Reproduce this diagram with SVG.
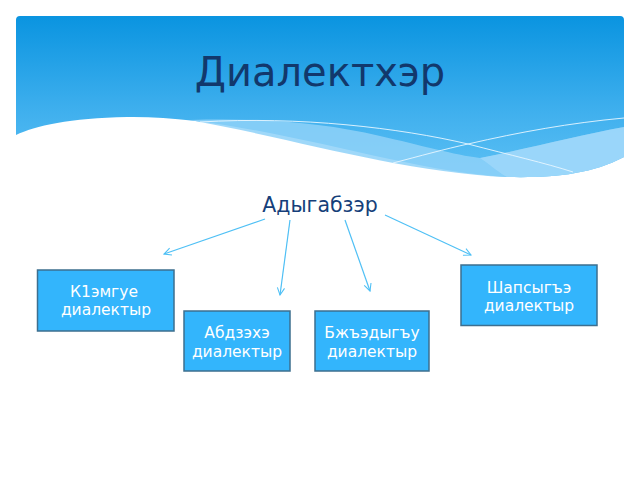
<svg xmlns="http://www.w3.org/2000/svg" width="640" height="480" viewBox="0 0 640 480">
<defs>
<linearGradient id="hdr" x1="0" y1="0" x2="0" y2="1">
<stop offset="0" stop-color="#0a94e0"/>
<stop offset="0.6" stop-color="#40b0ee"/>
<stop offset="1" stop-color="#5cc0f4"/>
</linearGradient>
<marker id="ah" viewBox="0 0 10 10" refX="9" refY="5" markerWidth="9" markerHeight="9" orient="auto" markerUnits="userSpaceOnUse">
<path d="M1,1 L9,5 L1,9" fill="none" stroke="#4fc0f5" stroke-width="1.2"/>
</marker>
<style>
.box{fill:#33b5fc;stroke:#3d6f8f;stroke-width:1.5}
.bt{font-family:"DejaVu Sans",sans-serif;font-size:15.5px;fill:#ffffff;text-anchor:middle}
.conn{stroke:#4fc0f5;stroke-width:1.2;fill:none;marker-end:url(#ah)}
</style>
</defs>
<rect width="640" height="480" fill="#ffffff"/>
<g id="header">
<path d="M20,16 H620 Q624,16 624,20 V157 C590,175 550,178 507,177 C400,172 250,115 127,117 C70,118 35,126 16,135 V20 Q16,16 20,16 Z" fill="url(#hdr)"/>
<path d="M190,120 C260,118 320,122 380,136 C420,145 455,155 480,158 C530,148 580,135 624,127 V157 C590,175 550,178 507,177 C400,172 300,140 190,120 Z" fill="#8ed1f8" opacity="0.85"/>
<path d="M480,158 C530,148 580,135 624,127 V157 C590,175 550,178 507,177 C495,170 488,163 480,158 Z" fill="#a8dcfb" opacity="0.6"/>
<path d="M200,122 C300,116 400,128 468,144 C510,155 545,163 573,172" fill="none" stroke="#e8f6ff" stroke-width="1" opacity="0.9"/>
<path d="M393,163 C420,156 445,149 468,144 C520,132 570,123 624,118" fill="none" stroke="#e8f6ff" stroke-width="1" opacity="0.9"/>
<text x="320" y="86" font-family="DejaVu Sans, sans-serif" font-size="40" fill="#12386c" text-anchor="middle">Диалектхэр</text>
</g>
<g id="root">
<text x="320" y="212" font-family="DejaVu Sans, sans-serif" font-size="20.5" fill="#163f7a" text-anchor="middle">Адыгабзэр</text>
</g>
<g id="connectors">
<line class="conn" x1="265" y1="219" x2="164" y2="254"/>
<line class="conn" x1="290" y1="220" x2="280" y2="295"/>
<line class="conn" x1="345" y1="220" x2="370" y2="291"/>
<line class="conn" x1="385" y1="215" x2="471" y2="255"/>
</g>
<g id="n1">
<rect class="box" x="37.5" y="270" width="136.5" height="61"/>
<text class="bt" x="104" y="297">К1эмгуе </text>
<text class="bt" x="106" y="315">диалектыр</text>
</g>
<g id="n2">
<rect class="box" x="184" y="311" width="106" height="60"/>
<text class="bt" x="237" y="338">Абдзэхэ</text>
<text class="bt" x="237" y="357">диалектыр</text>
</g>
<g id="n3">
<rect class="box" x="315" y="311" width="114" height="60"/>
<text class="bt" x="372" y="338">Бжъэдыгъу</text>
<text class="bt" x="372" y="357">диалектыр</text>
</g>
<g id="n4">
<rect class="box" x="461" y="265" width="136" height="60.5"/>
<text class="bt" x="529" y="293">Шапсыгъэ</text>
<text class="bt" x="529" y="311">диалектыр</text>
</g>
</svg>
